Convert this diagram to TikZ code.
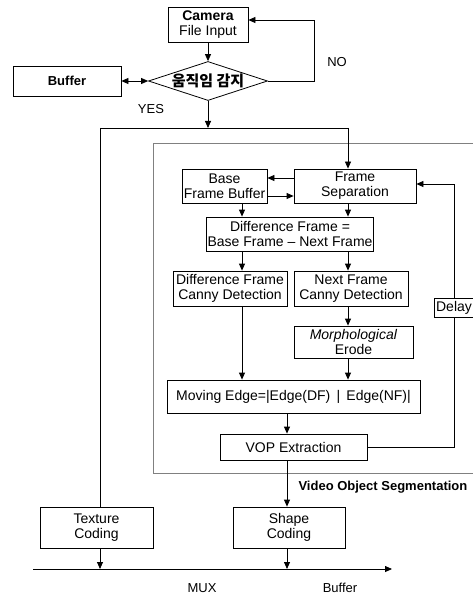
\documentclass[tikz,border=0pt]{standalone}
\usepackage{fontspec}
\setmainfont{Liberation Sans}
\newfontfamily\kr{Noto Sans CJK KR}
\usetikzlibrary{shapes.geometric,arrows.meta}

\tikzset{
  block/.style={draw, line width=0.8pt, align=center, inner sep=1pt,
    font=\fontsize{14}{15}\selectfont},
  decision/.style={draw, diamond, line width=0.8pt, aspect=3, inner sep=0pt,
    minimum width=119pt, minimum height=39pt},
  arr/.style={line width=0.8pt, -{Triangle[length=7pt,width=6pt]}},
  link/.style={line width=0.8pt},
  lbl/.style={font=\fontsize{13}{15}\selectfont},
}

\begin{document}
\begin{tikzpicture}[x=1pt, y=-1pt]
  \useasboundingbox (0,0) rectangle (473,596);

  % Segmentation frame
  \draw[gray, line width=0.6pt] (153,143) rectangle (480,473);

  % Nodes
  \node[block, minimum width=80pt, minimum height=35pt] (cam) at (208,24.5) {\textbf{Camera}\\File Input};
  \node[decision, font=\kr\bfseries\fontsize{15}{15}\selectfont] (det) at (208,81) {움직임 감지};
  \node[block, minimum width=108pt, minimum height=30pt, font=\fontsize{13}{15}\selectfont\bfseries] (buf) at (67,81) {Buffer};
  \node[lbl] (no) at (337,62) {NO};
  \node[lbl] (yes) at (151,109) {YES};

  \node[block, minimum width=85pt, minimum height=34pt] (base) at (224.5,186) {Base\\Frame Buffer};
  \node[block, minimum width=122pt, minimum height=34pt] (fs) at (355,186) {Frame\\Separation};
  \node[block, minimum width=166pt, minimum height=34pt] (diff) at (290,234) {Difference Frame =\\Base Frame -- Next Frame};
  \node[block, minimum width=114pt, minimum height=35pt] (dfc) at (230,288.5) {Difference Frame\\Canny Detection};
  \node[block, minimum width=114pt, minimum height=35pt] (nfc) at (351,288.5) {Next Frame\\Canny Detection};
  \node[block, minimum width=119pt, minimum height=32pt] (morph) at (353.5,342) {\textit{Morphological}\\Erode};
  \node[block, minimum width=253pt, minimum height=33pt] (me) at (293.5,396.5) {Moving Edge=|Edge(DF) \,|\, Edge(NF)|};
  \node[block, minimum width=147pt, minimum height=26pt] (vop) at (293.5,447) {VOP Extraction};
  \node[block, minimum width=40pt, minimum height=19pt, fill=white] (delay) at (454,307.5) {Delay};
  \node[lbl, font=\fontsize{13}{15}\selectfont\bfseries, anchor=west] (vos) at (295,487) {Video Object Segmentation};

  \node[block, minimum width=113pt, minimum height=41pt] (tex) at (96.5,527.5) {Texture\\Coding};
  \node[block, minimum width=112pt, minimum height=41pt] (shape) at (289,527.5) {Shape\\Coding};
  \node[lbl] (mux) at (202,588) {MUX};
  \node[lbl] (obuf) at (340,588) {Buffer};

  % Coordinates
  \coordinate (noturn) at (314,20);
  \coordinate (split) at (208,128);
  \coordinate (colT) at (100,128);
  \coordinate (colF) at (348,128);
  \coordinate (colL) at (242,0);
  \coordinate (colR) at (348,0);
  \coordinate (colM) at (287,0);
  \coordinate (busL) at (33,569);
  \coordinate (busR) at (392,569);

  % Edges
  \draw[arr] (cam) -- (det);
  \draw[arr, {Triangle[length=7pt,width=6pt]}-{Triangle[length=7pt,width=6pt]}] (buf.east) -- (det.west);
  \draw[arr] (det.east) -| (noturn) -- (cam.east |- noturn);
  \draw[arr] (det.south) -- (split);
  \draw[link] (colT) -- (colF);
  \draw[arr] (colF) -- (fs.north -| colF);
  \draw[link] (colT) -- (tex.north -| colT);

  \draw[arr] ([yshift=8pt]fs.west) -- ([yshift=8pt]fs.west -| base.east);
  \draw[arr] ([yshift=-10pt]base.east) -- ([yshift=-10pt]base.east -| fs.west);
  \draw[arr] (base.south -| colL) -- (diff.north -| colL);
  \draw[arr] (fs.south -| colR) -- (diff.north -| colR);
  \draw[arr] (diff.south -| colL) -- (dfc.north -| colL);
  \draw[arr] (diff.south -| colR) -- (nfc.north -| colR);
  \draw[arr] (nfc.south -| colR) -- (morph.north -| colR);
  \draw[arr] (dfc.south -| colL) -- (me.north -| colL);
  \draw[arr] (morph.south -| colR) -- (me.north -| colR);
  \draw[arr] (me.south -| colM) -- (vop.north -| colM);
  \draw[arr] (vop.south -| colM) -- (shape.north -| colM);
  \draw[link] (vop.east) -| (delay.south);
  \draw[arr] (delay.north) |- ([yshift=2pt]fs.east);

  \draw[arr] (busL) -- (busR);
  \draw[arr] (tex.south -| colT) -- (busL -| colT);
  \draw[arr] (shape.south -| colM) -- (busL -| colM);
\end{tikzpicture}
\end{document}
